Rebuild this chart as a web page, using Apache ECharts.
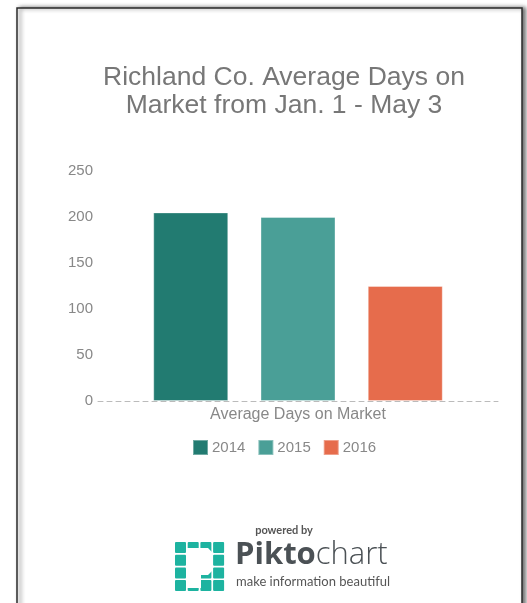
<!DOCTYPE html>
<html>
<head>
<meta charset="utf-8">
<script src="https://cdn.jsdelivr.net/npm/echarts@6/dist/echarts.min.js"></script>
<style>
html,body{margin:0;padding:0;background:#fff;}
#c{width:527px;height:603px;}
</style>
</head>
<body>
<div id="c"></div>
<script>
const titleLines = ['Richland Co. Average Days on', 'Market from Jan. 1 - May 3'];
const categories = ['Average Days on Market'];
const years = ['2014', '2015', '2016'];
const values = [205, 200, 125];
const colors = ['#227B71', '#4A9F97', '#E66C4C'];
const yMin = 0, yMax = 250, yInterval = 50;

const chart = echarts.init(document.getElementById('c'), null, {renderer: 'canvas'});

const series = years.map((y, i) => ({
  name: y,
  type: 'bar',
  data: [values[i]],
  barWidth: 75,
  barGap: '43%',
  itemStyle: {color: colors[i], borderColor: 'rgba(255,255,255,0.35)', borderWidth: 1},
  z: 2
}));

// logo squares
const logoEls = [];
for (let i = 0; i < 4; i++) {
  for (let j = 0; j < 4; j++) {
    logoEls.push({type: 'rect', shape: {x: 175 + i * 12.7, y: 542 + j * 12.7, width: 11, height: 11, r: 1},
      style: {fill: '#1DB3A0'}, z: 1});
  }
}
logoEls.push({type: 'polygon', shape: {points: [[186, 548], [208, 548], [213, 553], [213, 570], [208, 575], [201, 575], [201, 588], [186, 588]]},
  style: {fill: '#fff'}, z: 2});

const option = {
  backgroundColor: '#fff',
  animation: false,
  title: {
    text: titleLines.join('\n'),
    left: 279, top: 58, textAlign: 'center',
    textStyle: {fontFamily: 'Liberation Sans, Arial', fontSize: 26.5, fontWeight: 'normal', color: '#777', lineHeight: 28.5}
  },
  legend: {
    data: years,
    left: 187, top: 434,
    itemWidth: 15, itemHeight: 15, itemGap: 12,
    icon: 'rect',
    textStyle: {fontFamily: 'Liberation Sans, Arial', fontSize: 15, color: '#888', padding: [0, 0, 0, -1]},
    selectedMode: false
  },
  grid: {left: 98, right: 29, top: 171, bottom: 202},
  xAxis: {
    type: 'category', data: categories,
    axisLine: {show: true, lineStyle: {color: '#bbb', type: [5, 4], width: 1}},
    axisTick: {show: false},
    axisLabel: {fontFamily: 'Liberation Sans, Arial', fontSize: 16, color: '#888', margin: 6}
  },
  yAxis: {
    type: 'value', min: yMin, max: yMax, interval: yInterval,
    axisLine: {show: false}, axisTick: {show: false}, splitLine: {show: false},
    axisLabel: {fontFamily: 'Liberation Sans, Arial', fontSize: 15, color: '#888', margin: 5}
  },
  graphic: [
    {type: 'rect', shape: {x: 17, y: 8, width: 505, height: 640}, z: -10,
      style: {fill: '#fff', stroke: '#2b2b2b', lineWidth: 1.5, shadowBlur: 4, shadowOffsetX: 3, shadowOffsetY: 0, shadowColor: 'rgba(0,0,0,0.55)'}},
    {type: 'text', x: 284, y: 530, z: 5,
      style: {text: 'powered by', font: 'bold 11px Lato, Open Sans', fill: '#555', textAlign: 'center', textVerticalAlign: 'middle'}},
    {type: 'group', children: logoEls, z: 5},
    {type: 'text', x: 235, y: 571, z: 5,
      style: {rich: {b: {fontFamily: 'Open Sans', fontWeight: 'bold', fontSize: 31, fill: '#4B5155', color: '#4B5155'},
                     n: {fontFamily: 'Open Sans', fontWeight: 300, fontSize: 31, fill: '#4B5155', color: '#4B5155'}},
              text: '{b|Pikto}{n|chart}', textVerticalAlign: 'bottom'}},
    {type: 'text', x: 236, y: 582, z: 5,
      style: {text: 'make information beautiful', font: '13px Lato', fill: '#555', textVerticalAlign: 'middle'}}
  ],
  series: series
};
chart.setOption(option);
</script>
</body>
</html>
